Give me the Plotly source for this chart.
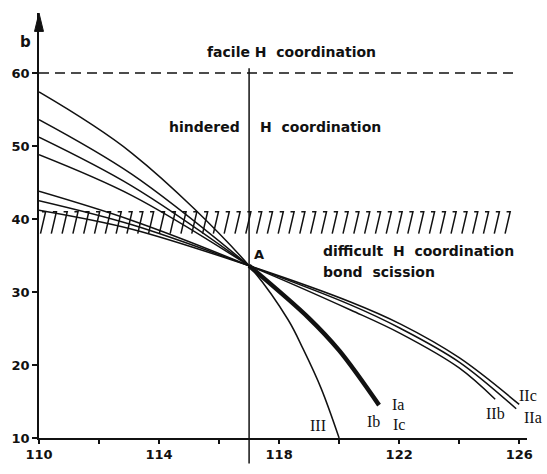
import numpy as np
import plotly.graph_objects as go

# ---- data -------------------------------------------------------------
# common point A where all curves meet
A_X, A_B = 117.0, 33.6

# curve III
III_X = [110.0, 113.1, 117.0, 118.3, 118.8, 119.4, 120.0]
III_B = [57.4, 49.0, 33.6, 26.2, 22.2, 16.8, 10.0]

# family I: three separate branches left of A, one common branch right of A
IA_LEFT_X = [110.0, 113.1, 117.0]
IA_LEFT_B = [53.6, 46.1, 33.6]
IB_LEFT_X = [110.0, 113.1, 117.0]
IB_LEFT_B = [51.2, 44.5, 33.6]
IC_LEFT_X = [110.0, 113.1, 117.0]
IC_LEFT_B = [48.8, 43.2, 33.6]
I_RIGHT_X = [117.0, 119.0, 120.0, 121.33]
I_RIGHT_B = [33.6, 26.4, 22.0, 14.5]

# family II
IIA_X = [110.0, 113.1, 117.0, 120.4, 122.05, 124.0, 125.9]
IIA_B = [42.5, 39.2, 33.6, 28.2, 25.0, 20.4, 14.0]
IIB_X = [110.0, 113.1, 117.0, 120.4, 122.05, 124.0, 125.2]
IIB_B = [43.8, 39.8, 33.6, 27.5, 24.3, 19.6, 15.3]
IIC_X = [110.0, 113.1, 117.0, 120.4, 122.05, 124.0, 126.0]
IIC_B = [41.2, 38.6, 33.6, 28.6, 25.6, 21.0, 14.6]

# reference levels
FACILE_B = 60.0
HATCH_LOW, HATCH_HIGH = 38.0, 41.0
HATCH_X0, HATCH_X1 = 110.0, 125.8
DASH_X1 = 125.9

# axis ranges and ticks
X_RANGE = [110.0, 126.26]
Y_RANGE = [10.0, 68.22]
X_TICKS = [110, 112, 114, 116, 118, 120, 122, 124, 126]
X_LABELS = ["110", "", "114", "", "118", "", "122", "", "126"]
Y_TICKS = [10, 20, 30, 40, 50, 60]
Y_LABELS = ["10", "20", "30", "40", "50", "60"]

# curve labels: (text, x, b)
CURVE_LABELS = [
    ("III", 119.3, 11.7),
    ("Ia", 121.95, 14.6),
    ("Ib", 121.15, 12.3),
    ("Ic", 121.99, 11.8),
    ("IIb", 125.2, 13.3),
    ("IIc", 126.3, 15.8),
    ("IIa", 126.45, 12.8),
]

INK = "#111111"
SANS = "DejaVu Sans"
SERIF = "Liberation Serif"

WIDTH, HEIGHT = 547, 474
MARGIN = dict(l=36, r=20, t=13, b=22)
PLOT_W = WIDTH - MARGIN["l"] - MARGIN["r"]
PLOT_H = HEIGHT - MARGIN["t"] - MARGIN["b"]

fig = go.Figure()


def curve(x, y, width=1.5):
    fig.add_trace(go.Scatter(
        x=x, y=y, mode="lines",
        line=dict(color=INK, width=width, shape="spline", smoothing=1.0),
        hoverinfo="skip", showlegend=False,
    ))


# hatched band of "difficult H coordination"
hx, hy = [], []
slant = 0.17
cap = 0.12
for x0 in np.arange(HATCH_X0 + 0.05, HATCH_X1 - slant, 0.36):
    hx += [x0, x0 + slant, x0 + slant - cap, None]
    hy += [HATCH_LOW, HATCH_HIGH, HATCH_HIGH, None]
fig.add_trace(go.Scatter(x=hx, y=hy, mode="lines",
                         line=dict(color=INK, width=1.5),
                         hoverinfo="skip", showlegend=False))

# dashed level of facile coordination
fig.add_trace(go.Scatter(x=[X_RANGE[0], DASH_X1], y=[FACILE_B, FACILE_B], mode="lines",
                         line=dict(color=INK, width=1.5, dash="10px,6px"),
                         hoverinfo="skip", showlegend=False))

curve(III_X, III_B)
curve(IA_LEFT_X, IA_LEFT_B)
curve(IB_LEFT_X, IB_LEFT_B)
curve(IC_LEFT_X, IC_LEFT_B)
curve(I_RIGHT_X, I_RIGHT_B, width=4.5)
curve(IIA_X, IIA_B)
curve(IIB_X, IIB_B)
curve(IIC_X, IIC_B)


def px(x):
    return (x - X_RANGE[0]) / (X_RANGE[1] - X_RANGE[0])


def py(b):
    return (b - Y_RANGE[0]) / (Y_RANGE[1] - Y_RANGE[0])


# vertical line through A, running below the axis
fig.add_shape(type="line", xref="x", yref="paper",
              x0=A_X, x1=A_X, y0=-0.06, y1=py(60.65),
              line=dict(color=INK, width=1.5))

# slender filled arrow head at the top of the b axis
half_w = 4.5 / PLOT_W
head_h = 19.0 / PLOT_H
fig.add_shape(type="path", xref="paper", yref="paper",
              path=f"M {-half_w} {1 - head_h} L 0 1 L {half_w} {1 - head_h} Z",
              fillcolor=INK, line=dict(color=INK, width=1))

annotations = []


def text(s, x, y, size=15, xanchor="center", font=SANS, weight="bold"):
    annotations.append(dict(x=px(x), y=py(y), xref="paper", yref="paper", text=s,
                            showarrow=False, xanchor=xanchor, yanchor="middle",
                            font=dict(family=font, size=size, color=INK,
                                      weight=weight)))


text("b", 109.54, 64.2, size=15)
text("facile H  coordination", 118.41, 62.9, size=14)
text("hindered", 116.75, 52.6, xanchor="right", size=14)
text("H  coordination", 117.3, 52.6, xanchor="left", size=14)
text("A", 117.32, 35.1, size=13)
text("difficult  H  coordination", 119.4, 35.6, xanchor="left", size=14)
text("bond  scission", 119.4, 32.7, xanchor="left", size=14)
for s, x, y in CURVE_LABELS:
    text(s, x, y, size=16, font=SERIF, weight="normal")

fig.update_layout(
    width=WIDTH, height=HEIGHT,
    margin=MARGIN,
    paper_bgcolor="white", plot_bgcolor="white",
    showlegend=False,
    annotations=annotations,
    xaxis=dict(range=X_RANGE, showgrid=False, zeroline=False,
               showline=True, linecolor=INK, linewidth=1.5,
               ticks="outside", ticklen=4, tickwidth=1.5, tickcolor=INK,
               tickvals=X_TICKS, ticktext=X_LABELS,
               tickfont=dict(family=SANS, size=13, color=INK, weight="bold")),
    yaxis=dict(range=Y_RANGE, showgrid=False, zeroline=False,
               showline=True, linecolor=INK, linewidth=1.5,
               ticks="outside", ticklen=5, tickwidth=1.5, tickcolor=INK,
               tickvals=Y_TICKS, ticktext=Y_LABELS,
               tickfont=dict(family=SANS, size=13, color=INK, weight="bold")),
)

fig.write_html("out.html")
